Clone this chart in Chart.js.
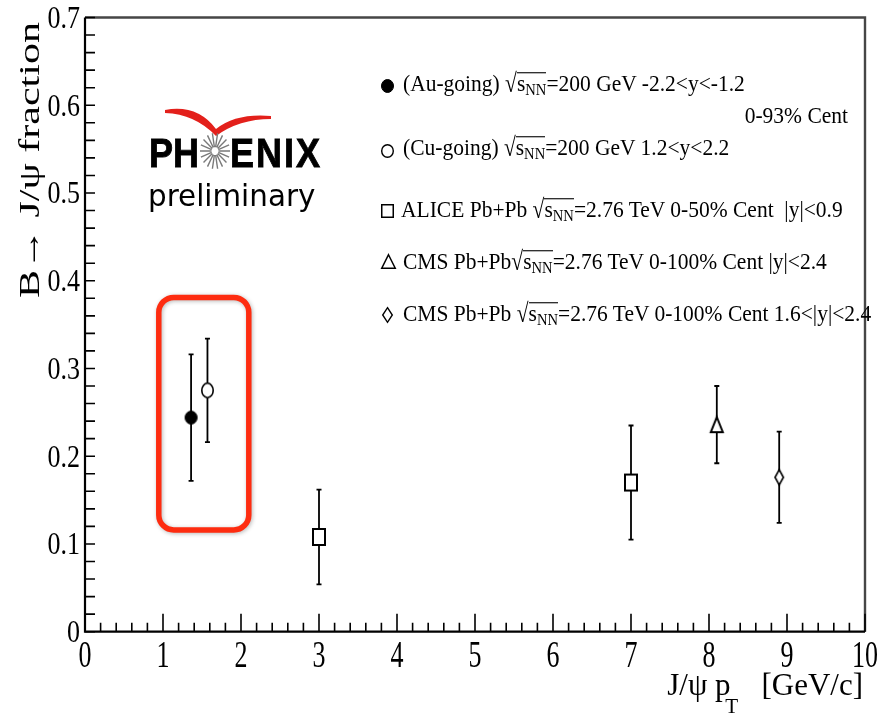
<!DOCTYPE html>
<html>
<head>
<meta charset="utf-8">
<title>B→J/ψ fraction vs J/ψ pT</title>
<script src="https://cdn.jsdelivr.net/npm/chart.js@4.4.1/dist/chart.umd.min.js"></script>
<style>
  html, body { margin: 0; padding: 0; background: #fff; }
  #wrap { position: relative; width: 877px; height: 723px; overflow: hidden; background: #fff; }
  #plot { position: absolute; left: 0; top: 0; }
  .txt { position: absolute; white-space: nowrap; line-height: 1; color: #000;
         font-family: "Liberation Serif", "Times New Roman", serif; }
  .leg { font-size: 21.5px; transform-origin: 0 84%; transform: scaleY(1.1); }
  .leg sub { font-size: 0.68em; vertical-align: -0.28em; line-height: 0; }
  .rad { display: inline-block; transform: scaleY(1.12); }
  .ov { display: inline-block; line-height: 0.86; border-top: 1.4px solid #000; }
  #ytitle { font-size: 30px; left: 14px; top: 298px; transform-origin: 0 0;
            transform: rotate(-90deg) scaleX(1.4); }
  #xtitle { font-size: 31px; right: 14px; top: 669px; }
  #xtitle sub { font-size: 0.68em; vertical-align: -0.85em; line-height: 0; margin-left: -0.25em; }
  .logo { position: absolute; white-space: nowrap; line-height: 1; color: #000; }
  #ph, #enix { font: bold 36px "Liberation Sans", Arial, sans-serif; top: 134px;
               -webkit-text-stroke: 0.8px #000; transform-origin: 0 85%; transform: scaleY(1.15); }
  #ph { left: 149px; }
  #enix { left: 230px; letter-spacing: 2px; }
  #prelim { font: 26px "DejaVu Sans", sans-serif; left: 148px; top: 182px;
            transform-origin: 0 80%; transform: scale(1.13, 1.15); }
</style>
</head>
<body>
<div id="wrap">
  <canvas id="plot" width="877" height="723"></canvas>

  <div class="logo" id="ph">PH</div>
  <div class="logo" id="enix">ENIX</div>
  <div class="logo" id="prelim">preliminary</div>

  <div class="txt leg" style="left:403px;top:74px">(Au-going) <span class="rad">√</span><span class="ov">s<sub>NN</sub></span>=200 GeV -2.2&lt;y&lt;-1.2</div>
  <div class="txt leg" style="right:29px;top:106px">0-93% Cent</div>
  <div class="txt leg" style="left:403px;top:138px">(Cu-going) <span class="rad">√</span><span class="ov">s<sub>NN</sub></span>=200 GeV 1.2&lt;y&lt;2.2</div>
  <div class="txt leg" style="left:401px;top:200px">ALICE Pb+Pb <span class="rad">√</span><span class="ov">s<sub>NN</sub></span>=2.76 TeV 0-50% Cent &nbsp;|y|&lt;0.9</div>
  <div class="txt leg" style="left:403px;top:252px">CMS Pb+Pb<span class="rad">√</span><span class="ov">s<sub>NN</sub></span>=2.76 TeV 0-100% Cent |y|&lt;2.4</div>
  <div class="txt leg" style="left:403px;top:304px">CMS Pb+Pb <span class="rad">√</span><span class="ov">s<sub>NN</sub></span>=2.76 TeV 0-100% Cent 1.6&lt;|y|&lt;2.4</div>

  <div class="txt" id="ytitle">B→ J/ψ fraction</div>
  <div class="txt" id="xtitle">J/ψ p<sub>T</sub>&nbsp;&nbsp; [GeV/c]</div>
</div>

<script>
// B -> J/psi fraction vs J/psi pT, one point list per measurement
const auGoingPt = [1.36];
const auGoingFrac = [0.244];
const auGoingErr = [0.072];

const cuGoingPt = [1.57];
const cuGoingFrac = [0.275];
const cuGoingErr = [0.059];

const alicePt = [3.0, 7.0];
const aliceFrac = [0.108, 0.170];
const aliceErr = [0.054, 0.065];

const cmsMidPt = [8.1];
const cmsMidFrac = [0.236];
const cmsMidErr = [0.044];

const cmsFwdPt = [8.9];
const cmsFwdFrac = [0.176];
const cmsFwdErr = [0.052];

const xTickValues = [0, 1, 2, 3, 4, 5, 6, 7, 8, 9, 10];
const xTickLabels = ['0', '1', '2', '3', '4', '5', '6', '7', '8', '9', '10'];
const yTickValues = [0, 0.1, 0.2, 0.3, 0.4, 0.5, 0.6, 0.7];
const yTickLabels = ['0', '0.1', '0.2', '0.3', '0.4', '0.5', '0.6', '0.7'];

// highlighted PHENIX region, in axis units
const boxPt = [0.946, 2.10];
const boxFrac = [0.116, 0.381];

/**
 * Draw an open / filled marker on a small canvas, used as a pointStyle image.
 */
function makeMarker(kind, w, h, lw) {
  const pad = 2;
  const c = document.createElement('canvas');
  c.width = w + pad * 2;
  c.height = h + pad * 2;
  const g = c.getContext('2d');
  g.translate(pad, pad);
  g.lineWidth = lw;
  g.strokeStyle = '#000';
  g.fillStyle = kind === 'dot' ? '#000' : '#fff';
  g.lineJoin = 'miter';
  const cx = w / 2, cy = h / 2, i = lw / 2;
  g.beginPath();
  if (kind === 'dot' || kind === 'ring') {
    g.ellipse(cx, cy, w / 2 - i, h / 2 - i, 0, 0, Math.PI * 2);
  } else if (kind === 'box') {
    g.rect(i, i, w - lw, h - lw);
  } else if (kind === 'tri') {
    g.moveTo(cx, i);
    g.lineTo(w - i, h - i);
    g.lineTo(i, h - i);
    g.closePath();
  } else if (kind === 'dia') {
    g.moveTo(cx, i);
    g.lineTo(w - i, cy);
    g.lineTo(cx, h - i);
    g.lineTo(i, cy);
    g.closePath();
  }
  g.fill();
  g.stroke();
  return c;
}

const markers = {
  dot: makeMarker('dot', 13, 14, 1),
  ring: makeMarker('ring', 13, 16, 1.6),
  box: makeMarker('box', 14, 18, 2),
  tri: makeMarker('tri', 14, 17, 2),
  dia: makeMarker('dia', 10, 17, 1.6)
};

// legend symbols, same shapes at text size
const legendSymbols = [
  { img: makeMarker('dot', 13, 14, 1), x: 387.5, y: 85.5 },
  { img: makeMarker('ring', 13, 14, 1.4), x: 387, y: 151 },
  { img: makeMarker('box', 13, 14, 1.5), x: 387, y: 210.5 },
  { img: makeMarker('tri', 15, 15, 1.5), x: 388, y: 261 },
  { img: makeMarker('dia', 11, 16, 1.4), x: 387, y: 314.5 }
];

function toPoints(xs, ys) {
  return xs.map((x, i) => ({ x, y: ys[i] }));
}

const series = [
  { label: 'Au-going', pt: auGoingPt, frac: auGoingFrac, err: auGoingErr, marker: markers.dot },
  { label: 'Cu-going', pt: cuGoingPt, frac: cuGoingFrac, err: cuGoingErr, marker: markers.ring },
  { label: 'ALICE Pb+Pb', pt: alicePt, frac: aliceFrac, err: aliceErr, marker: markers.box },
  { label: 'CMS Pb+Pb |y|<2.4', pt: cmsMidPt, frac: cmsMidFrac, err: cmsMidErr, marker: markers.tri },
  { label: 'CMS Pb+Pb 1.6<|y|<2.4', pt: cmsFwdPt, frac: cmsFwdFrac, err: cmsFwdErr, marker: markers.dia }
];

/**
 * Frame with inward ticks, plus vertical error bars under the markers.
 */
const frameAndErrors = {
  id: 'frameAndErrors',
  beforeDatasetsDraw(chart) {
    const { ctx, chartArea: a, scales: { x, y } } = chart;
    ctx.save();

    // top / right edges
    ctx.strokeStyle = '#464646';
    ctx.lineWidth = 2.4;
    ctx.beginPath();
    ctx.moveTo(a.left, a.top);
    ctx.lineTo(a.right, a.top);
    ctx.lineTo(a.right, a.bottom);
    ctx.stroke();

    // axis ticks: 5 subdivisions per unit on x, 0.02 steps on y
    ctx.strokeStyle = '#000';
    ctx.lineWidth = 1.6;
    ctx.beginPath();
    for (let k = 0; k <= 50; k++) {
      const px = x.getPixelForValue(k * 0.2);
      const len = k % 5 === 0 ? 18 : 9;
      ctx.moveTo(px, a.bottom);
      ctx.lineTo(px, a.bottom - len);
    }
    for (let k = 0; k <= 35; k++) {
      const py = y.getPixelForValue(k * 0.02);
      ctx.moveTo(a.left, py);
      ctx.lineTo(a.left + 10, py);
    }
    ctx.stroke();

    // left / bottom axis lines
    ctx.lineWidth = 2.2;
    ctx.beginPath();
    ctx.moveTo(a.left, a.top);
    ctx.lineTo(a.left, a.bottom);
    ctx.lineTo(a.right, a.bottom);
    ctx.stroke();

    // error bars with small end caps
    ctx.lineWidth = 1.8;
    chart.data.datasets.forEach((ds) => {
      ds.data.forEach((p, i) => {
        const px = x.getPixelForValue(p.x);
        const top = y.getPixelForValue(p.y + ds.errors[i]);
        const bot = y.getPixelForValue(p.y - ds.errors[i]);
        ctx.beginPath();
        ctx.moveTo(px, top);
        ctx.lineTo(px, bot);
        ctx.moveTo(px - 2.5, top);
        ctx.lineTo(px + 2.5, top);
        ctx.moveTo(px - 2.5, bot);
        ctx.lineTo(px + 2.5, bot);
        ctx.stroke();
      });
    });
    ctx.restore();
  }
};

/**
 * Tick labels, highlight box, PHENIX logo marks and legend symbols.
 */
const overlays = {
  id: 'overlays',
  afterDraw(chart) {
    const { ctx, chartArea: a, scales: { x, y } } = chart;
    ctx.save();
    ctx.fillStyle = '#000';
    ctx.font = '26px "Liberation Serif", "Times New Roman", serif';
    ctx.textBaseline = 'alphabetic';

    ctx.textAlign = 'right';
    yTickLabels.forEach((t, i) => {
      const py = y.getPixelForValue(yTickValues[i]);
      ctx.save();
      ctx.translate(a.left - 5, py + 10.5);
      ctx.scale(1, 1.2);
      ctx.fillText(t, 0, 0);
      ctx.restore();
    });

    ctx.textAlign = 'center';
    xTickLabels.forEach((t, i) => {
      const px = x.getPixelForValue(xTickValues[i]);
      ctx.save();
      ctx.translate(px, a.bottom + 35);
      ctx.scale(1, 1.45);
      ctx.fillText(t, 0, 0);
      ctx.restore();
    });

    // red rounded box around the PHENIX points
    const bx0 = x.getPixelForValue(boxPt[0]);
    const bx1 = x.getPixelForValue(boxPt[1]);
    const by0 = y.getPixelForValue(boxFrac[1]);
    const by1 = y.getPixelForValue(boxFrac[0]);
    ctx.save();
    ctx.shadowColor = 'rgba(0, 0, 0, 0.28)';
    ctx.shadowBlur = 4;
    ctx.shadowOffsetX = 1;
    ctx.shadowOffsetY = 1;
    ctx.strokeStyle = '#fe2c10';
    ctx.lineWidth = 5.5;
    ctx.beginPath();
    ctx.roundRect(bx0, by0, bx1 - bx0, by1 - by0, 15);
    ctx.stroke();
    ctx.restore();

    // PHENIX swoosh
    ctx.fillStyle = '#e3201b';
    ctx.beginPath();
    ctx.moveTo(165, 110);
    ctx.quadraticCurveTo(197, 104, 216, 129);
    ctx.quadraticCurveTo(236, 113, 271, 116);
    ctx.lineTo(271, 119);
    ctx.quadraticCurveTo(239, 119, 216, 136);
    ctx.quadraticCurveTo(195, 114, 165, 113);
    ctx.closePath();
    ctx.fill();

    // PHENIX star in place of the "O"
    const sx = 215, sy = 151;
    ctx.strokeStyle = '#7a7a7a';
    ctx.lineWidth = 1.4;
    ctx.beginPath();
    for (let k = 0; k < 18; k++) {
      const ang = (k / 18) * Math.PI * 2;
      const c = Math.cos(ang), s = Math.sin(ang);
      ctx.moveTo(sx + c * 3.5, sy + s * 4);
      ctx.lineTo(sx + c * 15, sy + s * 18);
    }
    ctx.stroke();

    legendSymbols.forEach((m) => {
      ctx.drawImage(m.img, Math.round(m.x - m.img.width / 2), Math.round(m.y - m.img.height / 2));
    });
    ctx.restore();
  }
};

new Chart(document.getElementById('plot').getContext('2d'), {
  type: 'scatter',
  data: {
    datasets: series.map((s) => ({
      label: s.label,
      data: toPoints(s.pt, s.frac),
      errors: s.err,
      pointStyle: s.marker,
      pointRadius: 7,
      pointHoverRadius: 7
    }))
  },
  options: {
    responsive: false,
    animation: false,
    devicePixelRatio: 1,
    layout: { padding: { left: 85, right: 12, top: 17.5, bottom: 91.3 } },
    plugins: {
      legend: { display: false },
      tooltip: { enabled: false }
    },
    scales: {
      x: { type: 'linear', min: 0, max: 10, display: false },
      y: { type: 'linear', min: 0, max: 0.7, display: false }
    }
  },
  plugins: [frameAndErrors, overlays]
});
</script>
</body>
</html>
